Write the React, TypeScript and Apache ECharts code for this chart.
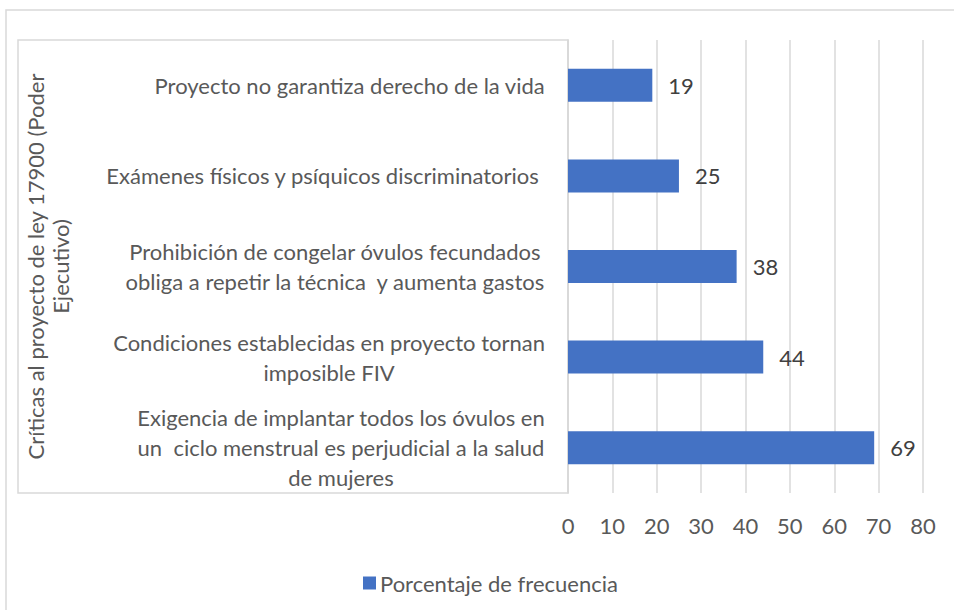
import React, { useEffect, useRef } from "react";
import * as echarts from "echarts";

const categories: string[] = [
  "Exigencia de implantar todos los óvulos en\nun  ciclo menstrual es perjudicial a la salud\nde mujeres",
  "Condiciones establecidas en proyecto tornan\nimposible FIV",
  "Prohibición de congelar óvulos fecundados\nobliga a repetir la técnica  y aumenta gastos",
  "Exámenes físicos y psíquicos discriminatorios ",
  "Proyecto no garantiza derecho de la vida",
];
const values: number[] = [69, 44, 38, 25, 19];
const seriesName = "Porcentaje de frecuencia";
const axisTitle = "Críticas al proyecto de ley 17900 (Poder\nEjecutivo)";

const FONT = "Lato, sans-serif";
const FS = 22;

export default function App() {
  const ref = useRef<HTMLDivElement>(null);
  useEffect(() => {
    document.body.style.margin = "0";
    if (!ref.current) return;
    const chart = echarts.init(ref.current, undefined, { renderer: "svg" });
    chart.setOption({
      animation: false,
      backgroundColor: "#ffffff",
      textStyle: { fontFamily: FONT },
      graphic: [
        {
          type: "rect",
          shape: { x: 6, y: 10, width: 1000, height: 700 },
          style: { fill: "none", stroke: "#d9d9d9", lineWidth: 1.5 },
          silent: true,
          z: -10,
        },
        {
          type: "rect",
          shape: { x: 18, y: 40, width: 550, height: 453 },
          style: { fill: "none", stroke: "#d9d9d9", lineWidth: 1.5 },
          silent: true,
          z: -5,
        },
      ],
      legend: {
        left: 358,
        top: 567,
        itemWidth: 13,
        itemHeight: 13,
        itemGap: 4,
        icon: "rect",
        textStyle: { color: "#595959", fontSize: FS, fontFamily: FONT, padding: [0, 0, 0, -1] },
        data: [seriesName],
      },
      grid: { left: 568, right: 31, top: 40, bottom: 117, containLabel: false },
      xAxis: {
        type: "value",
        min: 0,
        max: 80,
        interval: 10,
        axisLine: { show: false },
        axisTick: { show: false },
        axisLabel: { color: "#595959", fontSize: FS, margin: 21, fontFamily: FONT },
        splitLine: { lineStyle: { color: "#d9d9d9", width: 1.5 } },
      },
      yAxis: {
        type: "category",
        data: categories,
        axisLine: { show: true, lineStyle: { color: "#d9d9d9", width: 1.5 } },
        axisTick: { show: false },
        axisLabel: {
          align: "right",
          margin: 23,
          color: "#595959",
          fontSize: FS,
          lineHeight: 30,
          fontFamily: FONT,
          formatter: (v: string) =>
            v
              .split("\n")
              .map((l) => `{c|${l}}`)
              .join("\n"),
          rich: {
            c: {
              align: "center",
              color: "#595959",
              fontSize: FS,
              lineHeight: 30,
              fontFamily: FONT,
            },
          },
        },
        name: axisTitle,
        nameLocation: "middle",
        nameRotate: 90,
        nameGap: 495,
        nameTextStyle: {
          color: "#595959",
          fontSize: FS,
          lineHeight: 25,
          fontFamily: FONT,
          align: "center",
        },
      },
      series: [
        {
          name: seriesName,
          type: "bar",
          data: values,
          barWidth: 33,
          itemStyle: { color: "#4472c4" },
          label: {
            show: true,
            position: "right",
            distance: 16,
            color: "#404040",
            fontSize: FS,
            fontFamily: FONT,
          },
        },
      ],
    });
    return () => chart.dispose();
  }, []);
  return <div ref={ref} style={{ width: 954, height: 610 }} />;
}
